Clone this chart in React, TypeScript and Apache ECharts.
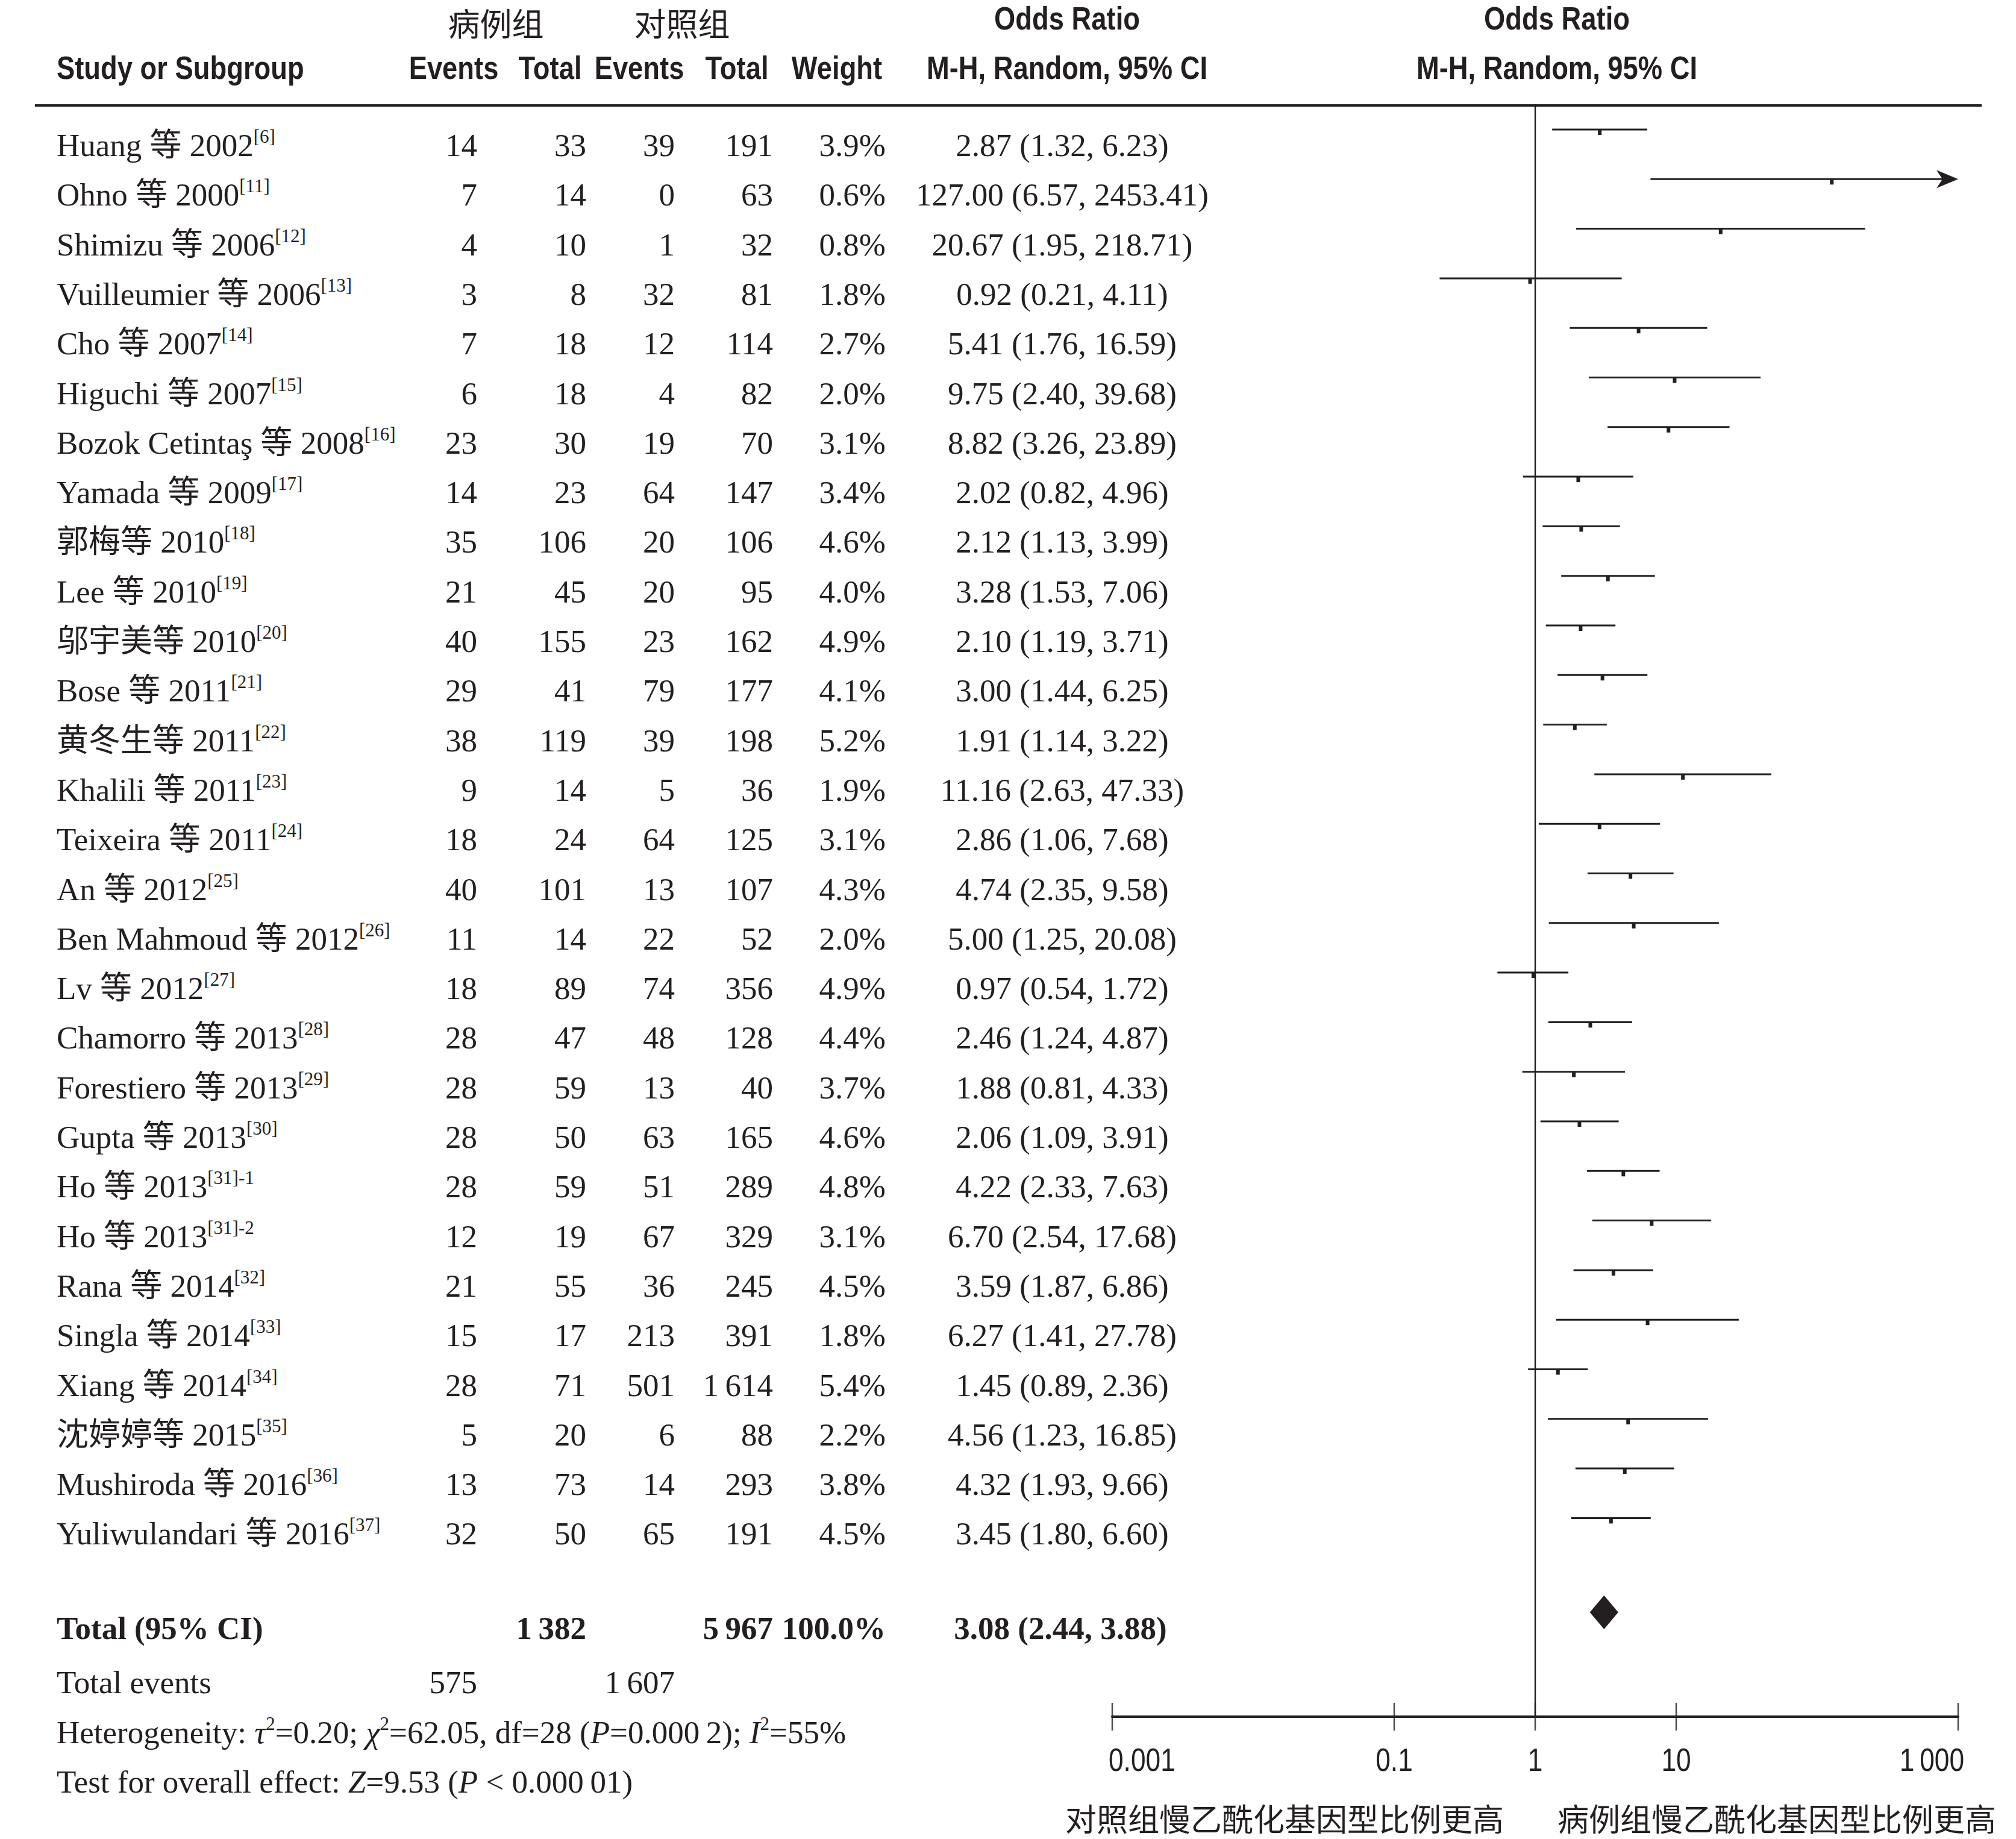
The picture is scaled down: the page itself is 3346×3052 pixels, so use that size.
import React, { useEffect, useRef } from 'react';
import * as echarts from 'echarts';

// ---------------- data ----------------
const STUDY_NAMES = [
  'Huang 等 2002', 'Ohno 等 2000', 'Shimizu 等 2006', 'Vuilleumier 等 2006', 'Cho 等 2007',
  'Higuchi 等 2007', 'Bozok Cetintaş 等 2008', 'Yamada 等 2009', '郭梅等 2010', 'Lee 等 2010',
  '邬宇美等 2010', 'Bose 等 2011', '黄冬生等 2011', 'Khalili 等 2011', 'Teixeira 等 2011',
  'An 等 2012', 'Ben Mahmoud 等 2012', 'Lv 等 2012', 'Chamorro 等 2013', 'Forestiero 等 2013',
  'Gupta 等 2013', 'Ho 等 2013', 'Ho 等 2013', 'Rana 等 2014', 'Singla 等 2014',
  'Xiang 等 2014', '沈婷婷等 2015', 'Mushiroda 等 2016', 'Yuliwulandari 等 2016',
];
const STUDY_REFS = [
  '[6]', '[11]', '[12]', '[13]', '[14]', '[15]', '[16]', '[17]', '[18]', '[19]',
  '[20]', '[21]', '[22]', '[23]', '[24]', '[25]', '[26]', '[27]', '[28]', '[29]',
  '[30]', '[31]-1', '[31]-2', '[32]', '[33]', '[34]', '[35]', '[36]', '[37]',
];
const CASE_EVENTS = [14, 7, 4, 3, 7, 6, 23, 14, 35, 21, 40, 29, 38, 9, 18, 40, 11, 18, 28, 28, 28, 28, 12, 21, 15, 28, 5, 13, 32];
const CASE_TOTAL = [33, 14, 10, 8, 18, 18, 30, 23, 106, 45, 155, 41, 119, 14, 24, 101, 14, 89, 47, 59, 50, 59, 19, 55, 17, 71, 20, 73, 50];
const CTRL_EVENTS = [39, 0, 1, 32, 12, 4, 19, 64, 20, 20, 23, 79, 39, 5, 64, 13, 22, 74, 48, 13, 63, 51, 67, 36, 213, 501, 6, 14, 65];
const CTRL_TOTAL = [191, 63, 32, 81, 114, 82, 70, 147, 106, 95, 162, 177, 198, 36, 125, 107, 52, 356, 128, 40, 165, 289, 329, 245, 391, 1614, 88, 293, 191];
const WEIGHTS = [3.9, 0.6, 0.8, 1.8, 2.7, 2.0, 3.1, 3.4, 4.6, 4.0, 4.9, 4.1, 5.2, 1.9, 3.1, 4.3, 2.0, 4.9, 4.4, 3.7, 4.6, 4.8, 3.1, 4.5, 1.8, 5.4, 2.2, 3.8, 4.5];
const ODDS = [2.87, 127.0, 20.67, 0.92, 5.41, 9.75, 8.82, 2.02, 2.12, 3.28, 2.10, 3.00, 1.91, 11.16, 2.86, 4.74, 5.00, 0.97, 2.46, 1.88, 2.06, 4.22, 6.70, 3.59, 6.27, 1.45, 4.56, 4.32, 3.45];
const CI_LOW = [1.32, 6.57, 1.95, 0.21, 1.76, 2.40, 3.26, 0.82, 1.13, 1.53, 1.19, 1.44, 1.14, 2.63, 1.06, 2.35, 1.25, 0.54, 1.24, 0.81, 1.09, 2.33, 2.54, 1.87, 1.41, 0.89, 1.23, 1.93, 1.80];
const CI_HIGH = [6.23, 2453.41, 218.71, 4.11, 16.59, 39.68, 23.89, 4.96, 3.99, 7.06, 3.71, 6.25, 3.22, 47.33, 7.68, 9.58, 20.08, 1.72, 4.87, 4.33, 3.91, 7.63, 17.68, 6.86, 27.78, 2.36, 16.85, 9.66, 6.60];

const TOTAL_CASE = 1382;
const TOTAL_CTRL = 5967;
const TOTAL_WEIGHT = 100.0;
const TOTAL_EVENTS_CASE = 575;
const TOTAL_EVENTS_CTRL = 1607;
const TOTAL_OR = [3.08, 2.44, 3.88];

const TICK_VALUES = [0.001, 0.1, 1, 10, 1000];
const TICK_LABELS = ['0.001', '0.1', '1', '10', '1\u2009000'];

const HETEROGENEITY = 'Heterogeneity: {i|τ}{s|2}=0.20; {i|χ}{s|2}=62.05, df=28 ({i|P}=0.000\u20092); {i|I}{s|2}=55%';
const OVERALL = 'Test for overall effect: {i|Z}=9.53 ({i|P} < 0.000\u200901)';
const LEFT_FAVOURS = '对照组慢乙酰化基因型比例更高';
const RIGHT_FAVOURS = '病例组慢乙酰化基因型比例更高';

// ---------------- layout ----------------
const W = 3346;
const H = 3052;
const INK = '#231f20';
const SERIF = "'Liberation Serif', 'Times New Roman', 'Noto Sans CJK SC', serif";
const SANS = "'Liberation Sans', Arial, sans-serif";
const CJK = "'Noto Sans CJK SC', sans-serif";
const NARROW_SCALE = 0.84;

const PLOT_LEFT = 1846;
const PLOT_RIGHT = 3250;
const PLOT_TOP = 175;
const AXIS_Y = 2849;
const ROW_H = 82.3;
const LINE0 = 215;
const TEXT0 = 241;
const Y_MIN = (PLOT_TOP - LINE0) / ROW_H;
const Y_MAX = (AXIS_Y - LINE0) / ROW_H;
const TOTAL_IDX = 29.9;

const FS = 53;

const fmtInt = (n: number) => {
  const s = String(n);
  return n >= 1000 ? s.slice(0, s.length - 3) + '\u2009' + s.slice(-3) : s;
};
const fmtOR = (o: number, l: number, h: number) => `${o.toFixed(2)} (${l.toFixed(2)}, ${h.toFixed(2)})`;

function txt(x: number, y: number, text: string, o: any = {}) {
  const align = o.align || 'left';
  return {
    type: 'text',
    x,
    y,
    silent: true,
    scaleX: o.scaleX || 1,
    style: {
      text,
      fill: INK,
      fontSize: o.fontSize || FS,
      fontFamily: o.fontFamily || SERIF,
      fontWeight: o.fontWeight || 'normal',
      fontStyle: o.fontStyle || 'normal',
      align,
      textAlign: align,
      verticalAlign: 'middle',
      textVerticalAlign: 'middle',
      rich: o.rich,
    },
  };
}

const richBase = (bold = false) => ({
  n: { fontSize: FS, fontFamily: SERIF, fill: INK, lineHeight: 60, fontWeight: bold ? 'bold' : 'normal' },
  s: { fontSize: 31, fontFamily: SERIF, fill: INK, lineHeight: 38, verticalAlign: 'top' },
  i: { fontSize: FS, fontFamily: SERIF, fill: INK, lineHeight: 60, fontStyle: 'italic' },
});

function buildGraphics() {
  const g: any[] = [];
  const hdr = { fontFamily: SANS, fontWeight: 'bold', fontSize: 54, scaleX: NARROW_SCALE };
  // header
  g.push(txt(823, 37, '病例组', { align: 'center', fontFamily: CJK, fontSize: 53 }));
  g.push(txt(1132, 37, '对照组', { align: 'center', fontFamily: CJK, fontSize: 53 }));
  g.push(txt(1771, 31, 'Odds Ratio', { ...hdr, align: 'center' }));
  g.push(txt(2584, 31, 'Odds Ratio', { ...hdr, align: 'center' }));
  g.push(txt(94, 113, 'Study or Subgroup', { ...hdr }));
  g.push(txt(753, 113, 'Events', { ...hdr, align: 'center' }));
  g.push(txt(913, 113, 'Total', { ...hdr, align: 'center' }));
  g.push(txt(1061, 113, 'Events', { ...hdr, align: 'center' }));
  g.push(txt(1223, 113, 'Total', { ...hdr, align: 'center' }));
  g.push(txt(1389, 113, 'Weight', { ...hdr, align: 'center' }));
  g.push(txt(1771, 113, 'M-H, Random, 95% CI', { ...hdr, align: 'center' }));
  g.push(txt(2584, 113, 'M-H, Random, 95% CI', { ...hdr, align: 'center' }));
  g.push({
    type: 'line',
    silent: true,
    shape: { x1: 58, y1: PLOT_TOP, x2: 3289, y2: PLOT_TOP },
    style: { stroke: INK, lineWidth: 4 },
  });

  // study rows
  STUDY_NAMES.forEach((name, i) => {
    const y = TEXT0 + i * ROW_H;
    g.push(txt(94, y, `{n|${name}}{s|${STUDY_REFS[i]}}`, { rich: richBase() }));
    g.push(txt(792, y, String(CASE_EVENTS[i]), { align: 'right' }));
    g.push(txt(973, y, fmtInt(CASE_TOTAL[i]), { align: 'right' }));
    g.push(txt(1120, y, String(CTRL_EVENTS[i]), { align: 'right' }));
    g.push(txt(1283, y, fmtInt(CTRL_TOTAL[i]), { align: 'right' }));
    g.push(txt(1470, y, WEIGHTS[i].toFixed(1) + '%', { align: 'right' }));
    g.push(txt(1763, y, fmtOR(ODDS[i], CI_LOW[i], CI_HIGH[i]), { align: 'center' }));
  });

  // total row
  const ty = TEXT0 + TOTAL_IDX * ROW_H;
  const b = { fontWeight: 'bold' };
  g.push(txt(94, ty, 'Total (95% CI)', b));
  g.push(txt(973, ty, fmtInt(TOTAL_CASE), { ...b, align: 'right' }));
  g.push(txt(1283, ty, fmtInt(TOTAL_CTRL), { ...b, align: 'right' }));
  g.push(txt(1470, ty, TOTAL_WEIGHT.toFixed(1) + '%', { ...b, align: 'right' }));
  g.push(txt(1760, ty, fmtOR(TOTAL_OR[0], TOTAL_OR[1], TOTAL_OR[2]), { ...b, align: 'center' }));

  // footnotes
  const ey = TEXT0 + 31 * ROW_H;
  g.push(txt(94, ey, 'Total events'));
  g.push(txt(792, ey, fmtInt(TOTAL_EVENTS_CASE), { align: 'right' }));
  g.push(txt(1120, ey, fmtInt(TOTAL_EVENTS_CTRL), { align: 'right' }));
  g.push(txt(94, TEXT0 + 32 * ROW_H, HETEROGENEITY, { rich: richBase() }));
  g.push(txt(94, TEXT0 + 33 * ROW_H, OVERALL, { rich: richBase() }));

  // favours labels
  g.push(txt(2132, 3016, LEFT_FAVOURS, { align: 'center', fontFamily: CJK, fontSize: 52 }));
  g.push(txt(2949, 3016, RIGHT_FAVOURS, { align: 'center', fontFamily: CJK, fontSize: 52 }));
  return g;
}

export default function App() {
  const ref = useRef<HTMLDivElement>(null);
  useEffect(() => {
    if (!ref.current) return;
    const chart = echarts.init(ref.current, null, { renderer: 'svg' });
    const studyData = STUDY_NAMES.map((_, i) => [CI_LOW[i], CI_HIGH[i], ODDS[i], i]);
    const xMax = TICK_VALUES[TICK_VALUES.length - 1];
    const option: any = {
      animation: false,
      backgroundColor: '#ffffff',
      grid: {
        left: PLOT_LEFT,
        top: PLOT_TOP,
        width: PLOT_RIGHT - PLOT_LEFT,
        height: AXIS_Y - PLOT_TOP,
        containLabel: false,
        outerBoundsMode: 'none',
      },
      xAxis: {
        type: 'log',
        logBase: 10,
        min: TICK_VALUES[0],
        max: xMax,
        axisLine: { show: true, onZero: false, lineStyle: { color: INK, width: 4 } },
        axisTick: { show: false },
        axisLabel: { show: false },
        splitLine: { show: false },
      },
      yAxis: {
        type: 'value',
        inverse: true,
        min: Y_MIN,
        max: Y_MAX,
        show: false,
        splitLine: { show: false },
      },
      series: [
        {
          type: 'line',
          data: [[1, Y_MIN], [1, Y_MAX]],
          symbol: 'none',
          clip: false,
          lineStyle: { color: INK, width: 2.4 },
          silent: true,
        },
        {
          type: 'custom',
          clip: false,
          silent: true,
          encode: { x: [0, 1, 2], y: 3 },
          data: studyData,
          renderItem: (_p: any, api: any) => {
            const lo = api.value(0);
            const hi = api.value(1);
            const or = api.value(2);
            const row = api.value(3);
            const p1 = api.coord([lo, row]);
            const p2 = api.coord([Math.min(hi, xMax), row]);
            const pc = api.coord([or, row]);
            const children: any[] = [
              {
                type: 'line',
                shape: { x1: p1[0], y1: p1[1], x2: p2[0] - (hi > xMax ? 20 : 0), y2: p2[1] },
                style: { stroke: INK, lineWidth: 3 },
              },
              {
                type: 'rect',
                shape: { x: pc[0] - 3, y: pc[1] - 1, width: 6, height: 10 },
                style: { fill: INK },
              },
            ];
            if (hi > xMax) {
              children.push({
                type: 'polygon',
                shape: {
                  points: [
                    [p2[0], p2[1]],
                    [p2[0] - 36, p2[1] - 15],
                    [p2[0] - 26, p2[1]],
                    [p2[0] - 36, p2[1] + 15],
                  ],
                },
                style: { fill: INK },
              });
            }
            return { type: 'group', children };
          },
        },
        {
          type: 'custom',
          clip: false,
          silent: true,
          encode: { x: [0, 1, 2], y: 3 },
          data: [[TOTAL_OR[1], TOTAL_OR[2], TOTAL_OR[0], TOTAL_IDX]],
          renderItem: (_p: any, api: any) => {
            const row = api.value(3);
            const pl = api.coord([api.value(0), row]);
            const ph = api.coord([api.value(1), row]);
            const pc = api.coord([api.value(2), row]);
            return {
              type: 'polygon',
              shape: {
                points: [
                  [pl[0], pl[1]],
                  [pc[0], pc[1] - 28],
                  [ph[0], ph[1]],
                  [pc[0], pc[1] + 28],
                ],
              },
              style: { fill: INK },
            };
          },
        },
        {
          type: 'scatter',
          clip: false,
          silent: true,
          symbol: 'rect',
          symbolSize: [2.5, 46],
          itemStyle: { color: INK },
          data: TICK_VALUES.map((v) => [v, Y_MAX]),
        },
      ],
    };
    chart.setOption(option);

    // tick labels placed through the axis scale
    const n = TICK_VALUES.length;
    const tickTexts = TICK_VALUES.map((v, i) => {
      const p = chart.convertToPixel({ gridIndex: 0 }, [v, Y_MAX]) as number[];
      const align = i === 0 ? 'left' : i === n - 1 ? 'right' : 'center';
      const dx = i === 0 ? -6 : i === n - 1 ? 10 : 0;
      return txt(p[0] + dx, p[1] + 71, TICK_LABELS[i], {
        align,
        fontFamily: SANS,
        fontSize: 54,
        scaleX: 0.82,
      });
    });
    chart.setOption({ graphic: [...buildGraphics(), ...tickTexts] });
    return () => chart.dispose();
  }, []);
  return (
    <div
      ref={ref}
      style={{ position: 'absolute', left: 0, top: 0, width: W, height: H, background: '#fff' }}
    />
  );
}
